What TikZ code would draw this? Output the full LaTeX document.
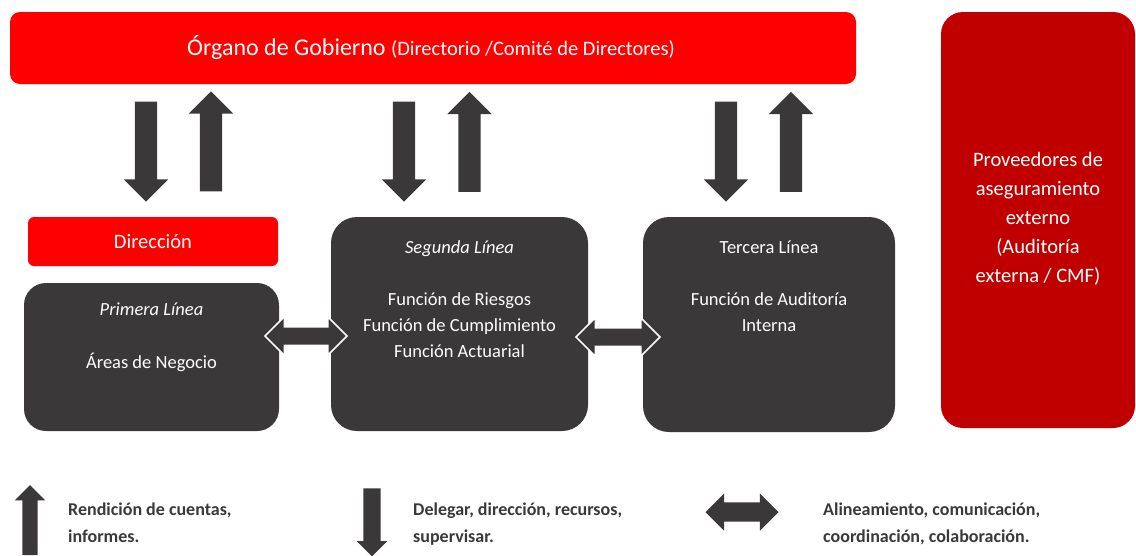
\documentclass[tikz,border=0pt]{standalone}
\usepackage{fontspec}
\setmainfont{Carlito}
\usetikzlibrary{shapes.arrows}
\definecolor{rojo}{HTML}{FF0000}
\definecolor{rojoosc}{HTML}{C00000}
\definecolor{gris}{HTML}{3A3838}
\begin{document}
\begin{tikzpicture}[x=1pt, y=-1pt,
redbox/.style={rounded corners=10pt, fill=rojo, inner sep=0pt},
darkbox/.style={rounded corners=26pt, fill=gris, inner sep=0pt},
boxtext/.style={text=white, font=\fontsize{18.5}{26}\selectfont, align=center, inner sep=0pt, anchor=base},
legendtext/.style={text=gris, font=\bfseries\fontsize{18}{27}\selectfont, align=left, inner sep=0pt, anchor=base west},
bigarrow/.style={single arrow, fill=gris, inner sep=11pt, single arrow head extend=11pt, minimum width=44pt, minimum height=100pt},
linkarrow/.style={double arrow, fill=gris, draw=white, line width=1.5pt, inner sep=8.5pt, double arrow head extend=10pt, minimum width=37pt, minimum height=82pt},
]
\useasboundingbox (0,0) rectangle (1136,555);
%Nodes
\node[redbox, minimum width=846pt, minimum height=72pt] (organo) at (433,48) {};
\node[text=white, inner sep=0pt, anchor=base] (organo_txt) at (431,55) {\fontsize{24}{26}\selectfont Órgano de Gobierno \fontsize{20.5}{26}\selectfont(Directorio /Comité de Directores)};
\node[fill=rojoosc, rounded corners=22pt, inner sep=0pt, minimum width=194pt, minimum height=416pt] (proveedores) at (1038,220) {};
\node[boxtext, font=\fontsize{20.5}{29}\selectfont] (proveedores_txt) at (1038,282) {Proveedores de\\aseguramiento\\externo\\(Auditoría\\externa / CMF)};
\node[redbox, rounded corners=6pt, minimum width=250pt, minimum height=49pt] (direccion) at (153,241.5) {};
\node[boxtext, font=\fontsize{20.5}{26}\selectfont] (direccion_txt) at (153,248) {Dirección};
\node[darkbox, rounded corners=22pt, minimum width=255pt, minimum height=148pt] (primera) at (151.5,357) {};
\node[boxtext] (primera_txt) at (151.5,315) {\itshape Primera Línea};
\node[boxtext] (negocio_txt) at (151.5,368) {Áreas de Negocio};
\node[darkbox, minimum width=257pt, minimum height=214pt] (segunda) at (459.5,324) {};
\node[boxtext] (segunda_txt) at (459.5,253) {\itshape Segunda Línea};
\node[boxtext] (riesgos_txt) at (459.5,357) {Función de Riesgos\\Función de Cumplimiento\\Función Actuarial};
\node[darkbox, minimum width=252pt, minimum height=215pt] (tercera) at (769,324.5) {};
\node[boxtext] (tercera_txt) at (769,253) {Tercera Línea};
\node[boxtext] (auditoria_txt) at (769,331) {Función de Auditoría\\Interna};

%Arrows
\node[bigarrow, rotate=-90] (down1) at (146,146) {};
\node[bigarrow, rotate=90] (up1) at (211,147) {};
\node[bigarrow, rotate=-90] (down2) at (404,146) {};
\node[bigarrow, rotate=90] (up2) at (469.5,147.5) {};
\node[bigarrow, rotate=-90] (down3) at (726,146) {};
\node[bigarrow, rotate=90] (up3) at (791,147.5) {};
\node[linkarrow] (link1) at (306,336) {};
\node[linkarrow, minimum height=84pt] (link2) at (618,337) {};

%Legend
\node[single arrow, fill=gris, inner sep=7.5pt, single arrow head extend=7.5pt, minimum width=30pt, minimum height=70pt, rotate=90] (up_legend) at (30,524) {};
\node[legendtext] (up_txt) at (68,542) {Rendición de cuentas,\\informes.};
\node[single arrow, fill=gris, inner sep=8.5pt, single arrow head extend=6.5pt, minimum width=30pt, minimum height=68pt, rotate=-90] (down_legend) at (372,518) {};
\node[legendtext] (down_txt) at (413,542) {Delegar, dirección, recursos,\\supervisar.};
\node[double arrow, fill=gris, inner sep=9.5pt, double arrow head extend=9pt, minimum width=37pt, minimum height=73pt] (link_legend) at (742,512) {};
\node[legendtext] (link_txt) at (823,542) {Alineamiento, comunicación,\\coordinación, colaboración.};
\end{tikzpicture}
\end{document}
